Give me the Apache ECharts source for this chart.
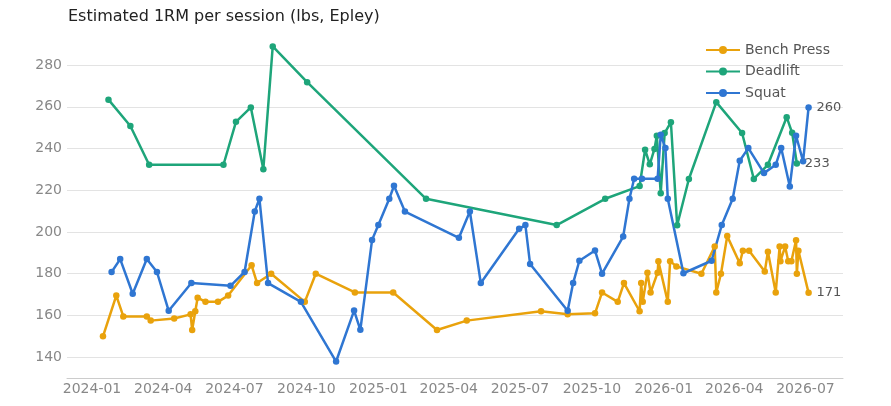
<!DOCTYPE html>
<html>
<head>
<meta charset="utf-8">
<script src="https://cdn.jsdelivr.net/npm/echarts@6/dist/echarts.min.js"></script>
<style>
  html, body { margin: 0; padding: 0; background: #fff; }
  #chart { width: 891px; height: 406px; }
</style>
</head>
<body>
<div id="chart"></div>
<script>
// session dates and estimated 1RM (lbs)
const benchDates = [
  "2024-01-15", "2024-02-01", "2024-02-10", "2024-03-11", "2024-03-16", "2024-04-15",
  "2024-05-06", "2024-05-08", "2024-05-12", "2024-05-15", "2024-05-25", "2024-06-10",
  "2024-06-23", "2024-07-23", "2024-07-30", "2024-08-17", "2024-09-29", "2024-10-13",
  "2024-12-02", "2025-01-20", "2025-03-17", "2025-04-24", "2025-07-28", "2025-08-31",
  "2025-10-05", "2025-10-14", "2025-11-03", "2025-11-11", "2025-12-01", "2025-12-03",
  "2025-12-05", "2025-12-11", "2025-12-15", "2025-12-24", "2025-12-25", "2026-01-06",
  "2026-01-09", "2026-01-17", "2026-02-18", "2026-03-07", "2026-03-09", "2026-03-15",
  "2026-03-23", "2026-04-08", "2026-04-12", "2026-04-20", "2026-05-10", "2026-05-14",
  "2026-05-24", "2026-05-29", "2026-05-30", "2026-06-05", "2026-06-09", "2026-06-13",
  "2026-06-19", "2026-06-20", "2026-06-22", "2026-07-05"
];
const benchValues = [
  150, 169.5, 159.5, 159.5, 157.5, 158.5,
  160.5, 153, 162, 168.5, 166.5, 166.5,
  169.5, 184, 175.5, 180, 166.5, 180,
  171, 171, 153, 157.5, 162, 160.5,
  161, 171, 166.5, 175.5, 162, 175.5,
  166.5, 180.5, 171, 180.5, 186, 166.5,
  186, 183.5, 180, 193, 171, 180,
  198, 185, 191, 191, 181, 190.5,
  171, 193, 186, 193, 186, 186,
  196, 180, 191, 170.8
];

const deadliftDates = [
  "2024-01-22", "2024-02-19", "2024-03-14", "2024-06-17", "2024-07-03", "2024-07-22",
  "2024-08-07", "2024-08-19", "2024-10-02", "2025-03-03", "2025-08-17", "2025-10-18",
  "2025-12-01", "2025-12-08", "2025-12-14", "2025-12-20", "2025-12-23", "2025-12-28",
  "2026-01-02", "2026-01-10", "2026-01-18", "2026-02-02", "2026-03-09", "2026-04-11",
  "2026-04-26", "2026-05-14", "2026-06-07", "2026-06-14", "2026-06-20"
];
const deadliftValues = [
  263.4, 250.8, 232.2, 232.2, 252.8, 259.7,
  230.1, 288.9, 271.8, 215.9, 203.3, 215.9,
  222, 239.4, 232.4, 239.8, 246.1, 218.6,
  247.4, 252.6, 203.2, 225.4, 262.2, 247.4,
  225.4, 232.2, 255, 247.5, 232.8
];

const squatDates = [
  "2024-01-26", "2024-02-06", "2024-02-22", "2024-03-11", "2024-03-24", "2024-04-08",
  "2024-05-07", "2024-06-26", "2024-07-14", "2024-07-27", "2024-08-02", "2024-08-13",
  "2024-09-24", "2024-11-08", "2024-12-01", "2024-12-09", "2024-12-24", "2025-01-01",
  "2025-01-15", "2025-01-21", "2025-02-04", "2025-04-14", "2025-04-28", "2025-05-12",
  "2025-06-30", "2025-07-08", "2025-07-14", "2025-08-31", "2025-09-07", "2025-09-15",
  "2025-10-05", "2025-10-14", "2025-11-10", "2025-11-18", "2025-11-24", "2025-12-04",
  "2025-12-24", "2025-12-28", "2026-01-03", "2026-01-06", "2026-01-26", "2026-03-03",
  "2026-03-16", "2026-03-30", "2026-04-08", "2026-04-19", "2026-05-09", "2026-05-24",
  "2026-05-31", "2026-06-11", "2026-06-19", "2026-06-28", "2026-07-05"
];
const squatValues = [
  180.8, 187, 170.4, 187, 180.8, 162.2,
  175.5, 174.2, 180.8, 209.8, 215.9, 175.5,
  166.5, 137.9, 162.3, 153.1, 196.2, 203.3,
  215.9, 222.1, 209.8, 197.2, 209.8, 175.5,
  201.5, 203.3, 184.6, 162.2, 175.5, 186.2,
  191.1, 180, 197.8, 215.9, 225.5, 225.5,
  225.5, 246.6, 240.2, 215.9, 180.2, 186.2,
  203.3, 215.9, 234.1, 240.2, 228.2, 232.2,
  240.2, 221.8, 246.1, 233.9, 259.7
];

const zip = (dates, values) => dates.map((d, i) => [d, values[i]]);

const chart = echarts.init(document.getElementById("chart"));

function makeSeries(name, color, data) {
  return {
    name: name,
    type: "line",
    data: data,
    symbol: "circle",
    symbolSize: 6.5,
    color: color,
    lineStyle: { width: 2.5 },
    endLabel: {
      show: true,
      formatter: (p) => String(Math.round(p.value[1])),
      color: "#555",
      fontSize: 13
    }
  };
}

chart.setOption({
  animation: false,
  backgroundColor: "#fff",
  textStyle: { fontFamily: "DejaVu Sans" },
  title: {
    text: "Estimated 1RM per session (lbs, Epley)",
    left: 63,
    top: 4,
    textStyle: { fontSize: 16, fontWeight: "normal", color: "#222" }
  },
  legend: {
    orient: "vertical",
    left: 700,
    top: 38,
    itemWidth: 34,
    itemHeight: 10,
    itemGap: 7.5,
    textStyle: { fontSize: 14, color: "#555" }
  },
  grid: { left: 67, right: 48, top: 40, bottom: 28 },
  xAxis: {
    type: "time",
    min: "2023-11-30",
    max: "2026-08-18",
    splitNumber: 10,
    axisLine: { lineStyle: { color: "#ccc" } },
    axisTick: { show: false },
    splitLine: { show: false },
    axisLabel: {
      color: "#888",
      fontSize: 14,
      margin: 4,
      showMinLabel: false,
      showMaxLabel: false,
      formatter: (v) => {
        const d = new Date(v);
        return d.getFullYear() + "-" + String(d.getMonth() + 1).padStart(2, "0");
      }
    }
  },
  yAxis: {
    type: "value",
    min: 130,
    max: 292,
    splitNumber: 8,
    axisLine: { show: false },
    axisTick: { show: false },
    splitLine: {
      lineStyle: { color: "#e3e3e3" },
      showMinLine: false,
      showMaxLine: false
    },
    axisLabel: {
      color: "#888",
      fontSize: 14,
      margin: 5,
      showMinLabel: false,
      showMaxLabel: false
    }
  },
  series: [
    makeSeries("Bench Press", "#E9A20C", zip(benchDates, benchValues)),
    makeSeries("Deadlift", "#1EA57A", zip(deadliftDates, deadliftValues)),
    makeSeries("Squat", "#2F76D2", zip(squatDates, squatValues))
  ]
});
</script>
</body>
</html>
